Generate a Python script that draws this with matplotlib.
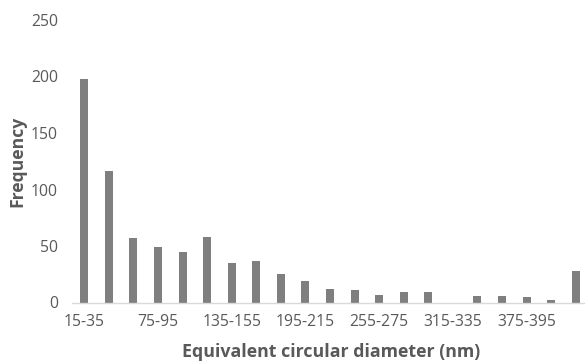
import matplotlib
matplotlib.use("Agg")
import matplotlib.pyplot as plt
import numpy as np

categories = ["15-35", "35-55", "55-75", "75-95", "95-115", "115-135", "135-155",
              "155-175", "175-195", "195-215", "215-235", "235-255", "255-275",
              "275-295", "295-315", "315-335", "335-355", "355-375", "375-395",
              "395-415", "415-435"]
frequency = [198, 116, 57, 49, 45, 58, 35, 37, 25, 19, 12, 11, 7, 9, 9, 0, 6, 6, 5, 2, 28]
yticks = [0, 50, 100, 150, 200, 250]

plt.rcParams['font.family'] = ['Open Sans', 'DejaVu Sans']
fig = plt.figure(figsize=(5.85, 3.62), dpi=100)
ax = fig.add_axes([72/585, (362-302.5)/362, (588-72)/585, (302.5-20)/362])

x = np.arange(len(categories))
ax.bar(x, frequency, width=0.33, color="#7f7f7f", zorder=2)
ax.set_xlim(-0.5, len(categories) - 0.5)
ax.set_ylim(0, 250)
ax.set_yticks(yticks)
ax.set_xticks(x[::3])
ax.set_xticklabels(categories[::3])
ax.tick_params(axis='both', length=0, colors="#595959", labelsize=11.3)
ax.tick_params(axis='x', pad=8)
ax.tick_params(axis='y', pad=10)
for s in ["top", "right", "left"]:
    ax.spines[s].set_visible(False)
ax.spines["bottom"].set_color("#d9d9d9")
ax.spines["bottom"].set_linewidth(1)

fig.text(331/585, 1 - 352/362, "Equivalent circular diameter (nm)", ha="center", va="center",
         fontsize=12.8, fontweight="bold", color="#595959")
fig.text(17/585, 1 - 161/362, "Frequency", ha="center", va="center", rotation=90,
         fontsize=12.6, fontweight="bold", color="#595959")

fig.savefig("out.png", dpi=100)
